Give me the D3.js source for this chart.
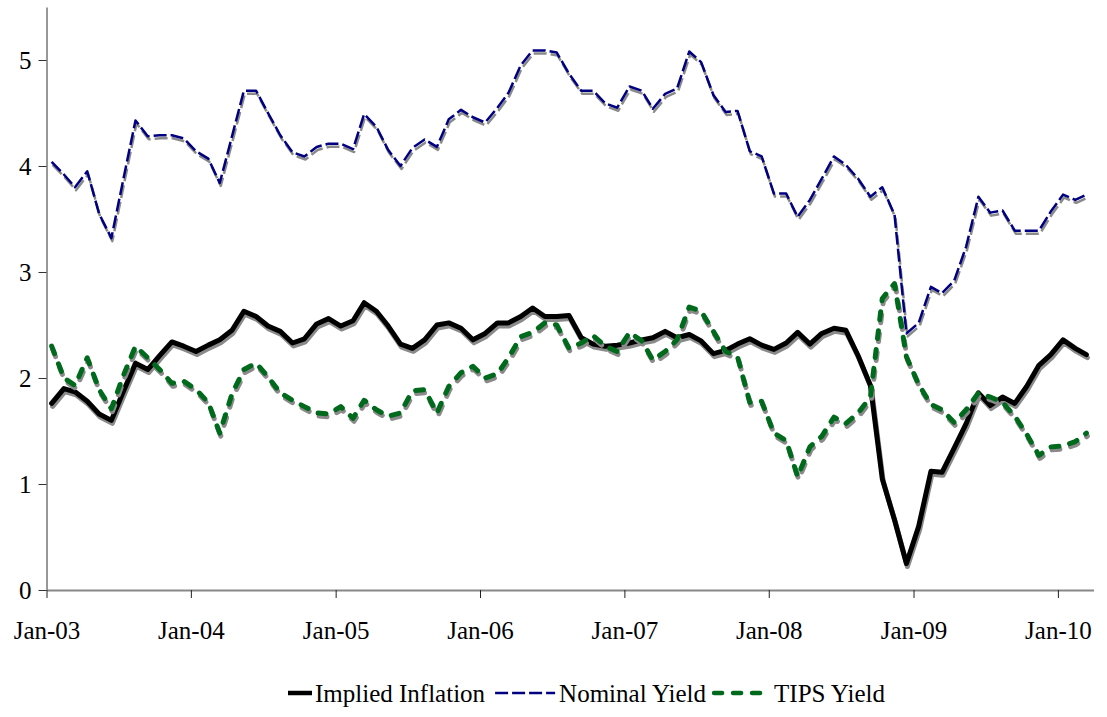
<!DOCTYPE html>
<html><head><meta charset="utf-8">
<script src="https://cdn.jsdelivr.net/npm/d3@7/dist/d3.min.js"></script>
<style>
body{margin:0;background:#fff;}
text{font-family:"Liberation Serif","Times New Roman",serif;fill:#000;}
</style>
</head><body>
<svg id="chart" width="1107" height="717"></svg>
<script>
// Monthly observations, Jan-2003 .. Mar-2010
const startYear = 2003, startMonth = 0;
const inflation = [1.76,1.90,1.87,1.78,1.66,1.60,1.87,2.14,2.08,2.21,2.34,2.30,
  2.25,2.31,2.36,2.45,2.63,2.58,2.49,2.44,2.33,2.37,2.51,2.56,
  2.49,2.54,2.71,2.63,2.49,2.32,2.28,2.36,2.50,2.52,2.47,2.36,
  2.42,2.52,2.52,2.58,2.66,2.58,2.58,2.59,2.38,2.32,2.30,2.31,
  2.33,2.36,2.38,2.44,2.38,2.41,2.35,2.23,2.26,2.32,2.37,2.31,
  2.27,2.33,2.43,2.32,2.42,2.47,2.45,2.21,1.93,1.05,0.66,0.25,
  0.60,1.12,1.11,1.34,1.57,1.86,1.74,1.82,1.76,1.92,2.12,2.22,
  2.36,2.28,2.22];
const nominal = [4.04,3.92,3.80,3.95,3.55,3.32,3.87,4.43,4.28,4.29,4.29,4.26,
  4.14,4.07,3.84,4.28,4.71,4.71,4.50,4.29,4.13,4.09,4.18,4.21,
  4.21,4.16,4.49,4.37,4.15,4.00,4.17,4.25,4.18,4.44,4.53,4.46,
  4.41,4.55,4.69,4.95,5.09,5.09,5.07,4.87,4.71,4.71,4.59,4.55,
  4.75,4.71,4.54,4.68,4.73,5.08,4.98,4.67,4.51,4.52,4.14,4.09,
  3.74,3.74,3.52,3.68,3.88,4.09,4.01,3.88,3.71,3.80,3.54,2.42,
  2.52,2.86,2.80,2.92,3.24,3.71,3.56,3.58,3.39,3.39,3.39,3.57,
  3.73,3.68,3.73];
const tips = [2.30,2.00,1.93,2.19,1.89,1.71,2.02,2.30,2.19,2.08,1.95,1.97,
  1.89,1.77,1.48,1.85,2.08,2.14,2.01,1.86,1.79,1.73,1.67,1.66,
  1.73,1.62,1.79,1.70,1.64,1.67,1.88,1.89,1.67,1.92,2.05,2.11,
  2.00,2.04,2.19,2.39,2.43,2.52,2.50,2.28,2.33,2.40,2.30,2.25,
  2.43,2.35,2.17,2.25,2.36,2.67,2.63,2.44,2.25,2.20,1.77,1.78,
  1.48,1.41,1.07,1.35,1.45,1.63,1.57,1.67,1.82,2.75,2.89,2.20,
  1.94,1.75,1.70,1.58,1.70,1.86,1.82,1.77,1.64,1.47,1.27,1.35,
  1.36,1.40,1.48];
const yTicks = [0,1,2,3,4,5];
const xTickYears = [2003,2004,2005,2006,2007,2008,2009,2010];
const seriesNames = ["Implied Inflation","Nominal Yield","TIPS Yield"];

(function(){
const svg = d3.select("#chart");
const mLeft = 46.5, mRight = 1093.5, mTop = 7, mBottom = 590;
const fs = 25;

const dates = inflation.map((_, i) => new Date(startYear, startMonth + i, 14));
const x = d3.scaleTime().domain([new Date(2003,0,1), new Date(2010,3,1)]).range([mLeft, mRight]);
const y = d3.scaleLinear().domain([0, 5.5]).range([mBottom, mTop]);

// Y axis
const yAxis = d3.axisLeft(y).tickValues(yTicks).tickSize(8).tickSizeOuter(0).tickPadding(7).tickFormat(d3.format("d"));
const gy = svg.append("g").attr("transform", `translate(${mLeft},0)`).call(yAxis);
gy.attr("font-family", null).attr("font-size", null);
gy.select(".domain").attr("stroke", "#333").attr("stroke-width", 1);
gy.selectAll(".tick line").attr("stroke", "#333");
gy.selectAll(".tick text").attr("font-size", fs).attr("fill", "#000");

// X axis
const xAxis = d3.axisBottom(x).tickValues(xTickYears.map(yr => new Date(yr,0,1)))
  .tickSize(8).tickSizeOuter(0).tickPadding(23).tickFormat(d3.timeFormat("%b-%y"));
const gx = svg.append("g").attr("transform", `translate(0,${mBottom})`).call(xAxis);
gx.attr("font-family", null).attr("font-size", null);
gx.select(".domain").attr("stroke", "#888").attr("stroke-width", 2);
gx.selectAll(".tick line").attr("stroke", "#222");
gx.selectAll(".tick text").attr("font-size", fs).attr("fill", "#000");

const series = [
  {name: seriesNames[0], values: inflation, color: "#000000", width: 5, dash: null, cap: "round"},
  {name: seriesNames[1], values: nominal, color: "#000080", width: 2.5, dash: "13,4", cap: "butt"},
  {name: seriesNames[2], values: tips, color: "#006a1c", width: 5, dash: "8,11", cap: "round"}
];

const line = d3.line().x((d,i) => x(dates[i])).y(d => y(d));

series.forEach(s => {
  const g = svg.append("g");
  g.append("path").datum(s.values).attr("d", line)
    .attr("transform", "translate(1,3)")
    .attr("fill","none").attr("stroke","#8a8a8a").attr("stroke-width", s.width)
    .attr("stroke-dasharray", s.dash).attr("stroke-linecap", s.cap).attr("stroke-linejoin","round");
  g.append("path").datum(s.values).attr("d", line)
    .attr("fill","none").attr("stroke", s.color).attr("stroke-width", s.width)
    .attr("stroke-dasharray", s.dash).attr("stroke-linecap", s.cap).attr("stroke-linejoin","round");
});

// Legend
const lg = svg.append("g");
const ly = 693;
const sampleLen = [24, 60, 48];
const gapAfterSample = [3, 4, 12];
const gapAfterText = [10, 8, 0];
let cx = 288;
series.forEach((s, i) => {
  lg.append("line").attr("x1", cx).attr("x2", cx + sampleLen[i]).attr("y1", ly).attr("y2", ly)
    .attr("stroke", s.color).attr("stroke-width", i === 1 ? 2.5 : 4.5)
    .attr("stroke-dasharray", s.dash).attr("stroke-linecap", i === 0 ? "butt" : s.cap);
  cx += sampleLen[i] + gapAfterSample[i];
  const t = lg.append("text").attr("x", cx).attr("y", ly).attr("dy", "0.35em")
    .attr("font-size", fs).text(s.name);
  cx += t.node().getComputedTextLength() + gapAfterText[i];
});
})();
</script>
</body></html>
